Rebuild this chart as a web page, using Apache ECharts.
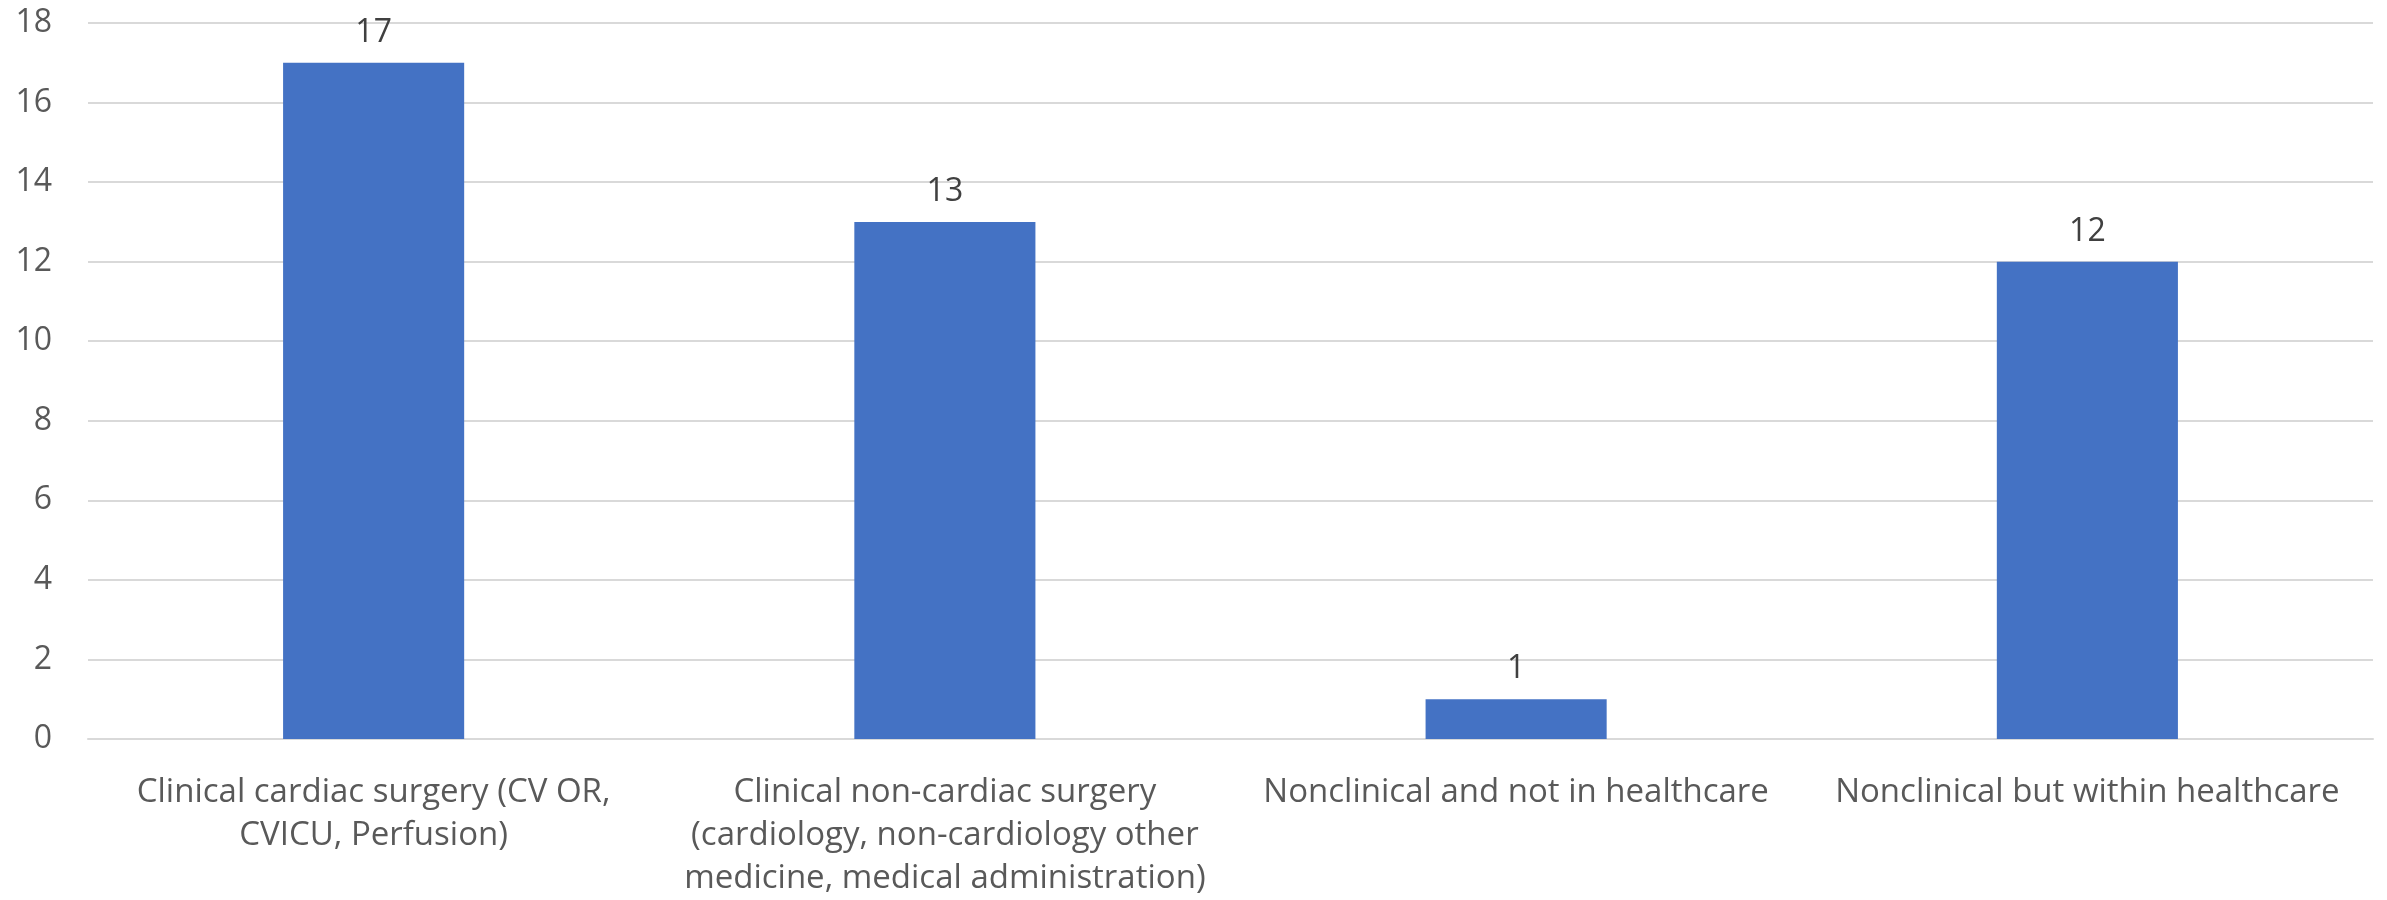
<!DOCTYPE html>
<html>
<head>
<meta charset="utf-8">
<script src="https://cdn.jsdelivr.net/npm/echarts@6/dist/echarts.min.js"></script>
<style>
html,body{margin:0;padding:0;background:#fff;}
#chart{width:2387px;height:900px;}
</style>
</head>
<body>
<div id="chart"></div>
<script>
var categories = [
  "Clinical cardiac surgery (CV OR,\nCVICU, Perfusion)",
  "Clinical non-cardiac surgery\n(cardiology, non-cardiology other\nmedicine, medical administration)",
  "Nonclinical and not in healthcare",
  "Nonclinical but within healthcare"
];
var counts = [17, 13, 1, 12];
var yMin = 0, yMax = 18, yStep = 2;

var FONT = "Open Sans";
var chart = echarts.init(document.getElementById('chart'), null, {renderer: 'canvas'});
chart.setOption({
  animation: false,
  backgroundColor: '#ffffff',
  grid: {left: 88, right: 14, top: 23, bottom: 159, containLabel: false},
  xAxis: {
    type: 'category',
    data: categories,
    axisLine: {show: true, lineStyle: {color: '#d9d9d9', width: 2}},
    axisTick: {show: false},
    axisLabel: {
      interval: 0,
      margin: 32,
      fontFamily: FONT,
      fontSize: 33,
      lineHeight: 43,
      color: '#595959',
      align: 'center'
    }
  },
  yAxis: {
    type: 'value',
    min: yMin, max: yMax, interval: yStep,
    axisLine: {show: false},
    axisTick: {show: false},
    splitLine: {lineStyle: {color: '#d9d9d9', width: 2}},
    axisLabel: {margin: 36, fontFamily: FONT, fontSize: 32, color: '#595959'}
  },
  series: [{
    type: 'bar',
    data: counts,
    barWidth: '31.7%',
    itemStyle: {color: '#4472C4'},
    label: {
      show: true,
      position: 'top',
      distance: 14,
      fontFamily: FONT,
      fontSize: 32,
      color: '#404040'
    }
  }]
});
</script>
</body>
</html>
